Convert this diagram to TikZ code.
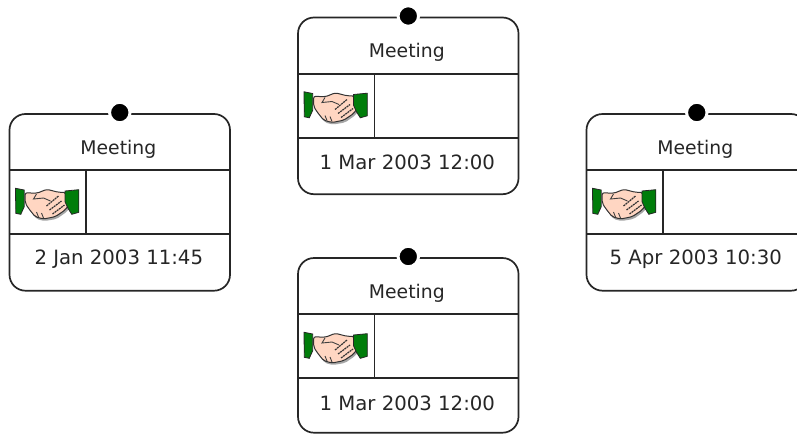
\documentclass[tikz,border=0pt]{standalone}
\usepackage{fontspec}
\setmainfont{DejaVu Sans}
\definecolor{cuffgreen}{RGB}{0,125,10}
\definecolor{handpink}{RGB}{255,214,194}
\tikzset{
    cardline/.style={draw=black!85, line width=1.7pt},
    cardtext/.style={text=black!85, inner sep=0pt},
    startdot/.style={circle, fill=black, draw=white, line width=3pt, minimum size=20.5pt, inner sep=0pt},
    pics/handshake/.style={code={
        \fill[black!35, rounded corners=2pt] (17,81) -- (28,81) -- (38,77) -- (50,80) -- (58,80) -- (61,93) -- (57,98) -- (47,105) -- (35,107) -- (27,105) -- (20,96) -- cycle;
        \draw[black!80, fill=handpink, line width=1pt, rounded corners=2pt] (15.7,78.7) -- (27.3,79.3) -- (37.3,75.3) -- (49,78.3) -- (56.3,78.3) -- (59,91) -- (55.7,96) -- (45.7,102.7) -- (34,105) -- (25.7,102.7) -- (19,94.3) -- (15.7,89) -- cycle;
        \draw[black!75, line width=0.9pt] (27,80) -- (24,85) -- (34,84) -- (41,87);
        \draw[black!80, line width=1.2pt, dash pattern=on 2pt off 0.7pt] (37,92) -- (49,82);
        \draw[black!80, line width=1.2pt, dash pattern=on 2pt off 0.7pt] (40,96) -- (52,87);
        \draw[black!80, line width=1.2pt, dash pattern=on 2pt off 0.7pt] (43,100) -- (55,91);
        \draw[black!75, line width=0.9pt] (27,98) -- (29,103);
        \draw[black!75, line width=0.9pt] (32,99) -- (34,104);
        \fill[cuffgreen, draw=black!85, line width=0.8pt] (6,74.3) -- (14.7,76) -- (14.7,92.7) -- (11.3,100.3) -- (6.3,99.3) -- cycle;
        \fill[cuffgreen, draw=black!85, line width=0.8pt] (55.5,77) -- (69.3,75.7) -- (69.3,98.3) -- (62.3,100.3) -- (58.5,94.3) -- (55.5,87.7) -- cycle;
    }},
    % #1 date, #2 card height
    pics/meeting/.style 2 args={code={
        \draw[cardline, rounded corners=16pt] (0,0) rectangle (220.5,#2);
        \draw[cardline] (0,56.3) -- (220.5,56.3);
        \draw[cardline] (0,120.3) -- (220.5,120.3);
        \draw[cardline] (76.5,56.3) -- (76.5,120.3);
        \node[startdot] (-dot) at (110.3,-1.5) {};
        \node[cardtext, font=\fontsize{18.8}{20}\selectfont] (-title) at (108.8,35) {Meeting};
        \node[cardtext, font=\fontsize{19.7}{20}\selectfont] (-date) at (109.3,145) {#1};
        \pic {handshake};
    }},
}
\begin{document}
\begin{tikzpicture}[x=1pt, y=-1pt]
    \fill[white] (0,0) rectangle (797,434);
    \clip (0,0) rectangle (797,434);
    \pic (cardJan) at (9.5,114) {meeting={2 Jan 2003 11:45}{176.7}};
    \pic (cardMarA) at (298,17.5) {meeting={1 Mar 2003 12:00}{176.7}};
    \pic (cardMarB) at (298,258) {meeting={1 Mar 2003 12:00}{174.7}};
    \pic (cardApr) at (586.5,114) {meeting={5 Apr 2003 10:30}{176.7}};
\end{tikzpicture}
\end{document}
